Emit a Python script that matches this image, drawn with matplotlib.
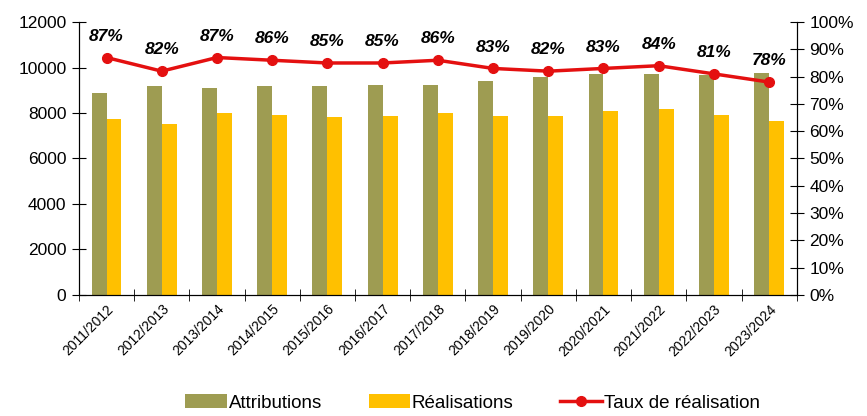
import matplotlib.pyplot as plt
import numpy as np

plt.rcParams['font.family'] = ['Liberation Sans', 'DejaVu Sans']

years = ['2011/2012', '2012/2013', '2013/2014', '2014/2015', '2015/2016', '2016/2017',
         '2017/2018', '2018/2019', '2019/2020', '2020/2021', '2021/2022', '2022/2023', '2023/2024']
attributions = [8870, 9190, 9110, 9190, 9190, 9230, 9230, 9420, 9600, 9710, 9710, 9680, 9770]
realisations = [7740, 7500, 7990, 7910, 7810, 7870, 7990, 7870, 7870, 8100, 8160, 7910, 7660]
taux = [87, 82, 87, 86, 85, 85, 86, 83, 82, 83, 84, 81, 78]

x = np.arange(len(years))
w = 0.27

fig = plt.figure(figsize=(8.67, 4.16), dpi=100)
ax = fig.add_axes([0.091, 0.291, 0.828, 0.656])
ax.bar(x - w/2, attributions, w, color='#9E9C52', label='Attributions')
ax.bar(x + w/2, realisations, w, color='#FFC000', label='Réalisations')
ax.set_xlim(-0.5, len(years) - 0.5)
ax.set_ylim(0, 12000)
ax.set_yticks(range(0, 12001, 2000))
ax.tick_params(axis='y', direction='inout', length=10, labelsize=12.5, pad=4)
ax.set_xticks(x)
ax.set_xticklabels(years, rotation=45, ha='right', rotation_mode='anchor', fontsize=10)
ax.tick_params(axis='x', length=0, pad=5)
ax.set_xticks(np.arange(-0.5, len(years), 1), minor=True)
ax.tick_params(axis='x', which='minor', direction='inout', length=9)
ax.spines['top'].set_visible(False)

ax2 = ax.twinx()
ax2.plot(x, taux, '-o', color='#E41010', linewidth=2.5, markersize=7, label='Taux de réalisation')
ax2.set_ylim(0, 100)
ax2.set_yticks(range(0, 101, 10))
ax2.set_yticklabels(['%d%%' % v for v in range(0, 101, 10)])
ax2.tick_params(axis='y', direction='inout', length=10, labelsize=12.5, pad=4)
ax2.spines['top'].set_visible(False)
for i, t in enumerate(taux):
    ax2.annotate('%d%%' % t, (x[i], t), xytext=(0, 10), textcoords='offset points',
                 ha='center', va='bottom', fontsize=12.5, fontweight='bold', fontstyle='italic')

h1, l1 = ax.get_legend_handles_labels()
h2, l2 = ax2.get_legend_handles_labels()
fig.legend(h1 + h2, l1 + l2, loc='lower center', ncol=3, frameon=False, fontsize=13.5,
           bbox_to_anchor=(0.545, -0.03), handlelength=2.2, handletextpad=0.1, columnspacing=2.5)

plt.savefig('out.png')
